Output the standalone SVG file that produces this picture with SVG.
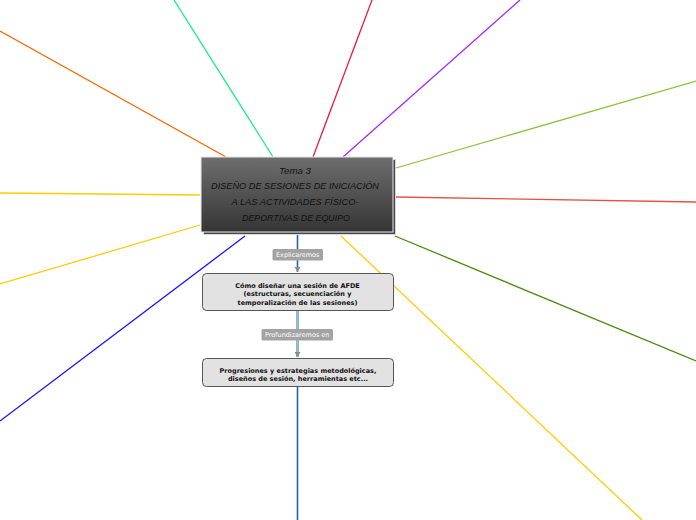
<svg xmlns="http://www.w3.org/2000/svg" width="696" height="520" viewBox="0 0 696 520">
<defs>
<linearGradient id="g" x1="0" y1="0" x2="0" y2="1">
<stop offset="0" stop-color="#6e6e6e"/>
<stop offset="1" stop-color="#353535"/>
</linearGradient>
<style>
.c{fill:none;stroke-width:1.3}
.t{font-family:"Liberation Sans",Arial,sans-serif;font-style:italic;font-size:9px;fill:#111;text-anchor:middle}
.b{fill:#e2e2e2;stroke:#555;stroke-width:1}
.bt{font-family:"DejaVu Sans",Verdana,sans-serif;font-weight:bold;font-size:6.5px;fill:#111;text-anchor:middle}
.lb{fill:#a3a3a3}
.lt{font-family:"DejaVu Sans",Verdana,sans-serif;font-size:6.5px;fill:#fff;text-anchor:middle}
.ah{fill:#8a8a8a}
</style>
</defs>
<rect width="696" height="520" fill="#fff"/>
<g id="connectors">
<line class="c" x1="0" y1="31" x2="226" y2="157" stroke="#ff6600"/>
<line class="c" x1="174" y1="0" x2="273" y2="157" stroke="#14ee8c"/>
<line class="c" x1="372" y1="0" x2="313" y2="157" stroke="#e8194b"/>
<line class="c" x1="520" y1="0" x2="343" y2="157" stroke="#a22bfb"/>
<line class="c" x1="396" y1="168" x2="696" y2="81" stroke="#8cc43c"/>
<line class="c" x1="396" y1="197" x2="696" y2="202" stroke="#e8503f"/>
<line class="c" x1="395" y1="236" x2="696" y2="361" stroke="#4a8a0c"/>
<line class="c" x1="341" y1="236" x2="642" y2="520" stroke="#ffcc00"/>
<line class="c" x1="0" y1="193" x2="200" y2="195" stroke="#ffcc00"/>
<line class="c" x1="0" y1="284" x2="200" y2="225" stroke="#ffcc00"/>
<line class="c" x1="0" y1="421" x2="245" y2="236" stroke="#1414ff"/>
<line x1="297.5" y1="234" x2="297.5" y2="272" stroke="#1e64b4" stroke-width="1.6"/>
<line x1="297.5" y1="311" x2="297.5" y2="357" stroke="#1e64b4" stroke-width="2"/>
<line x1="297.5" y1="311" x2="297.5" y2="357" stroke="#a7b8cf" stroke-width="1"/>
<line x1="297.5" y1="387" x2="297.5" y2="520" stroke="#1e64b4" stroke-width="1.6"/>
<path class="ah" d="M294.5 267 L300.5 267 L297.5 272 Z"/>
<path class="ah" d="M294.5 352 L300.5 352 L297.5 357 Z"/>
<rect class="lb" x="272.5" y="249" width="50.5" height="11.5" rx="1.5"/>
<text class="lt" x="297.7" y="257.3">Explicaremos</text>
<rect class="lb" x="261.5" y="329" width="71.5" height="11.5" rx="1.5"/>
<text class="lt" x="297.2" y="337.3">Profundizaremos en</text>
</g>
<g id="central">
<rect x="203.5" y="159.5" width="192" height="75" fill="#474747" stroke="#d8d8d8" stroke-width="1"/>
<rect x="201" y="157" width="192" height="75" fill="url(#g)" stroke="#e8e8e8" stroke-width="1"/>
<text class="t" x="295" y="173.5" textLength="32" lengthAdjust="spacingAndGlyphs">Tema 3</text>
<text class="t" x="295" y="189" textLength="168" lengthAdjust="spacingAndGlyphs">DISEÑO DE SESIONES DE INICIACIÓN</text>
<text class="t" x="295" y="205" textLength="127" lengthAdjust="spacingAndGlyphs">A LAS ACTIVIDADES FÍSICO-</text>
<text class="t" x="296" y="221" textLength="108" lengthAdjust="spacingAndGlyphs">DEPORTIVAS DE EQUIPO</text>
</g>
<g id="node1">
<rect class="b" x="202.5" y="273.5" width="191" height="37" rx="4"/>
<text class="bt" x="297.5" y="287.5">Cómo diseñar una sesión de AFDE</text>
<text class="bt" x="297.5" y="296">(estructuras, secuenciación y</text>
<text class="bt" x="297.5" y="304.5">temporalización de las sesiones)</text>
</g>
<g id="node2">
<rect class="b" x="202.5" y="358.5" width="191" height="28" rx="4"/>
<text class="bt" x="298" y="372.5">Progresiones y estrategias metodológicas,</text>
<text class="bt" x="298" y="381">diseños de sesión, herramientas etc...</text>
</g>
</svg>
